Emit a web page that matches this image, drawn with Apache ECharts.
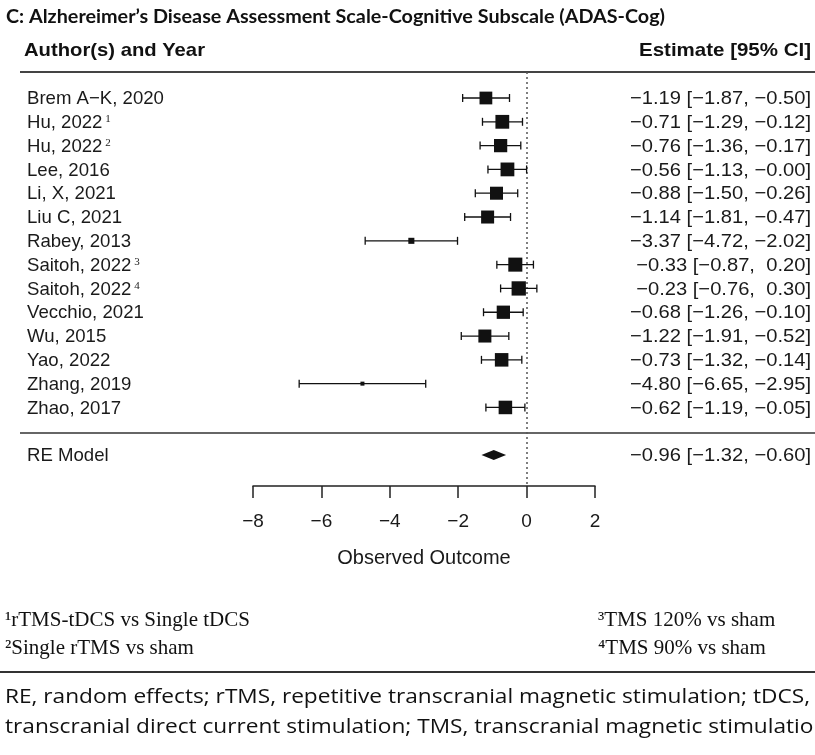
<!DOCTYPE html>
<html><head><meta charset="utf-8">
<script src="https://cdn.jsdelivr.net/npm/echarts@6/dist/echarts.min.js"></script>
<style>html,body{margin:0;padding:0;background:#fff}#c{width:815px;height:755px}</style>
</head><body><div id="c"></div>
<script>
// ---- data ----
const studies = ['Brem A\u2212K, 2020','Hu, 2022','Hu, 2022','Lee, 2016','Li, X, 2021','Liu C, 2021','Rabey, 2013','Saitoh, 2022','Saitoh, 2022','Vecchio, 2021','Wu, 2015','Yao, 2022','Zhang, 2019','Zhao, 2017'];
const footMarks = ['','1','2','','','','','3','4','','','','',''];
const estimates = [-1.19,-0.71,-0.76,-0.56,-0.88,-1.14,-3.37,-0.33,-0.23,-0.68,-1.22,-0.73,-4.80,-0.62];
const lowerCI  = [-1.87,-1.29,-1.36,-1.13,-1.50,-1.81,-4.72,-0.87,-0.76,-1.26,-1.91,-1.32,-6.65,-1.19];
const upperCI  = [-0.50,-0.12,-0.17,-0.00,-0.26,-0.47,-2.02, 0.20, 0.30,-0.10,-0.52,-0.14,-2.95,-0.05];
const weights  = [7.3,7.7,7.5,7.7,7.4,7.4,4.7,7.8,7.9,7.5,7.4,7.6,3.9,7.6];
const reLabel = 'RE Model';
const reEstimate = -0.96, reLower = -1.32, reUpper = -0.60;
const xTicks = [-8,-6,-4,-2,0,2];
const titleText = 'C: Alzhereimer\u2019s Disease Assessment Scale-Cognitive Subscale (ADAS-Cog)';
const headerLeft = 'Author(s) and Year';
const headerRight = 'Estimate [95% CI]';
const axisTitle = 'Observed Outcome';
const footnotesLeft = [['1','rTMS-tDCS vs Single tDCS'],['2','Single rTMS vs sham']];
const footnotesRight = [['3','TMS 120% vs sham'],['4','TMS 90% vs sham']];
const captionLines = ['RE, random effects; rTMS, repetitive transcranial magnetic stimulation; tDCS,','transcranial direct current stimulation; TMS, transcranial magnetic stimulation'];

// ---- helpers ----
const SUP = {'1':'\u00b9','2':'\u00b2','3':'\u00b3','4':'\u2074'};
function fmt(v){
  const neg = v < 0 || Object.is(v, -0);
  return (neg ? '\u2212' : ' ') + Math.abs(v).toFixed(2);
}
function estText(e,l,u){ return fmt(e) + ' [' + fmt(l) + ', ' + fmt(u) + ']'; }
const wMin = Math.min(...weights), wMax = Math.max(...weights);
function sqSize(w){ return 4 + (w - wMin) / (wMax - wMin) * 10.3; }

const mctx = document.createElement('canvas').getContext('2d');
function textW(text, font){ mctx.font = font; return mctx.measureText(text).width; }
function fitScale(text, font, target){ return target / textW(text, font); }

const FONT = "'Liberation Sans', Arial, sans-serif";
const SERIF = "'Liberation Serif', 'Times New Roman', serif";
const INK = '#111';
const TXT = '#1a1a1a';

const LABEL_FONT = "18.6px " + FONT;
const EST_FONT = "18.6px " + FONT;
const estScale = fitScale(estText(estimates[0], lowerCI[0], upperCI[0]), EST_FONT, 181);
const TITLE_FONT = "bold 18px Lato, sans-serif";
const titleScale = fitScale(titleText, TITLE_FONT, 659);
const HEAD_FONT = "bold 18.6px " + FONT;
const headLScale = fitScale(headerLeft, HEAD_FONT, 181);
const headRScale = fitScale(headerRight, HEAD_FONT, 172);
const CAP_FONT = "20px 'Open Sans', sans-serif";
const capScale = fitScale(captionLines[0], CAP_FONT, 805);
const FOOT_FONT = "21px " + SERIF;

const rowIdx = studies.map((_, i) => i + 1);
const reRow = studies.length + 2;
const studyData = studies.map((_, i) => [rowIdx[i], estimates[i], lowerCI[i], upperCI[i], weights[i]]);

function renderStudy(params, api){
  const y = api.value(0), e = api.value(1), lo = api.value(2), hi = api.value(3), w = api.value(4);
  const pL = api.coord([lo, y]), pH = api.coord([hi, y]), pE = api.coord([e, y]);
  const s = sqSize(w), cap = 4;
  const ls = {stroke: INK, lineWidth: 1.3};
  return {type:'group', children:[
    {type:'line', shape:{x1:pL[0], y1:pL[1], x2:pH[0], y2:pH[1]}, style:ls},
    {type:'line', shape:{x1:pL[0], y1:pL[1]-cap, x2:pL[0], y2:pL[1]+cap}, style:ls},
    {type:'line', shape:{x1:pH[0], y1:pH[1]-cap, x2:pH[0], y2:pH[1]+cap}, style:ls},
    {type:'rect', shape:{x:pE[0]-s/2, y:pE[1]-s/2, width:s, height:s}, style:{fill: INK}}
  ]};
}
function renderRE(params, api){
  const y = api.value(0), e = api.value(1), lo = api.value(2), hi = api.value(3);
  const pL = api.coord([lo, y]), pH = api.coord([hi, y]), pE = api.coord([e, y]);
  return {type:'polygon', shape:{points:[[pL[0],pL[1]],[pE[0],pE[1]-5],[pH[0],pH[1]],[pE[0],pE[1]+5]]}, style:{fill: INK}};
}
function renderLeftLabel(params, api){
  const p = api.coord([0, api.value(0)]);
  const mark = api.value(1);
  const txt = '{n|' + api.value(2) + '}' + (mark ? '{s| ' + mark + '}' : '');
  return {type:'text', x: 27, y: p[1] + 1, style:{
    text: txt, align:'left', verticalAlign:'middle',
    rich:{ n:{font: LABEL_FONT, fill:TXT}, s:{fontSize:11, fontFamily:SERIF, fill:TXT, padding:[0,0,7,0]} }
  }};
}
function renderRightLabel(params, api){
  const p = api.coord([0, api.value(0)]);
  return {type:'text', x: 811, y: p[1] + 1, scaleX: estScale, style:{
    text: estText(api.value(1), api.value(2), api.value(3)), align:'right', verticalAlign:'middle',
    font: EST_FONT, fill:TXT
  }};
}

const leftData = studies.map((s, i) => [rowIdx[i], footMarks[i], s]).concat([[reRow, '', reLabel]]);
const rightData = studies.map((_, i) => [rowIdx[i], estimates[i], lowerCI[i], upperCI[i]]).concat([[reRow, reEstimate, reLower, reUpper]]);

const chart = echarts.init(document.getElementById('c'), null, {renderer:'canvas'});
chart.setOption({
  animation:false,
  backgroundColor:'#fff',
  grid:{left:253, right:220, top:72, bottom:269, containLabel:false},
  xAxis:{type:'value', min:xTicks[0], max:xTicks[xTicks.length-1], interval:2,
    axisLine:{show:true, onZero:false, lineStyle:{color:'#222', width:1.5}},
    axisTick:{show:true, inside:false, length:12, lineStyle:{color:'#222', width:1.5}},
    axisLabel:{margin:26, fontSize:19, fontFamily:FONT, color:TXT, formatter: v => (v<0?'\u2212':'') + Math.abs(v)},
    splitLine:{show:false},
    name:axisTitle, nameLocation:'middle', nameGap:62,
    nameTextStyle:{fontSize:20, fontFamily:FONT, color:TXT}
  },
  yAxis:{type:'value', inverse:true, min:-0.0924, max:17.30, show:false},
  series:[
    {type:'custom', renderItem:renderStudy, data:studyData, encode:{x:[1,2,3], y:0}, silent:true, clip:false, z:5,
     markLine:{silent:true, symbol:['none','none'], label:{show:false},
       lineStyle:{type:[2,3], color:'#555', width:1.5}, data:[{xAxis:0}]}},
    {type:'custom', renderItem:renderRE, data:[[reRow, reEstimate, reLower, reUpper]], encode:{x:[1,2,3], y:0}, silent:true, clip:false, z:5},
    {type:'custom', renderItem:renderLeftLabel, data:leftData, encode:{y:0}, silent:true, clip:false},
    {type:'custom', renderItem:renderRightLabel, data:rightData, encode:{y:0}, silent:true, clip:false}
  ],
  graphic:[
    {type:'text', x:6, y:17, scaleX:titleScale, style:{text:titleText, font:TITLE_FONT, fill:'#111', verticalAlign:'middle'}},
    {type:'text', x:24, y:51, scaleX:headLScale, style:{text:headerLeft, font:HEAD_FONT, fill:'#111', verticalAlign:'middle'}},
    {type:'text', x:811, y:51, scaleX:headRScale, style:{text:headerRight, font:HEAD_FONT, fill:'#111', align:'right', verticalAlign:'middle'}},
    {type:'line', shape:{x1:20, y1:72, x2:815, y2:72}, style:{stroke:'#444', lineWidth:2}},
    {type:'line', shape:{x1:20, y1:433, x2:815, y2:433}, style:{stroke:'#333', lineWidth:1.5}},
    {type:'text', x:5, y:620, style:{text:SUP[footnotesLeft[0][0]] + footnotesLeft[0][1], font:FOOT_FONT, fill:'#111', verticalAlign:'middle'}},
    {type:'text', x:5, y:648, style:{text:SUP[footnotesLeft[1][0]] + footnotesLeft[1][1], font:FOOT_FONT, fill:'#111', verticalAlign:'middle'}},
    {type:'text', x:598, y:620, style:{text:SUP[footnotesRight[0][0]] + footnotesRight[0][1], font:FOOT_FONT, fill:'#111', verticalAlign:'middle'}},
    {type:'text', x:598, y:648, style:{text:SUP[footnotesRight[1][0]] + footnotesRight[1][1], font:FOOT_FONT, fill:'#111', verticalAlign:'middle'}},
    {type:'line', shape:{x1:0, y1:672, x2:815, y2:672}, style:{stroke:'#333', lineWidth:2}},
    {type:'text', x:5, y:697, scaleX:capScale, style:{text:captionLines[0], font:CAP_FONT, fill:'#111', verticalAlign:'middle'}},
    {type:'text', x:5, y:727, scaleX:capScale, style:{text:captionLines[1], font:CAP_FONT, fill:'#111', verticalAlign:'middle'}}
  ]
});
</script></body></html>
